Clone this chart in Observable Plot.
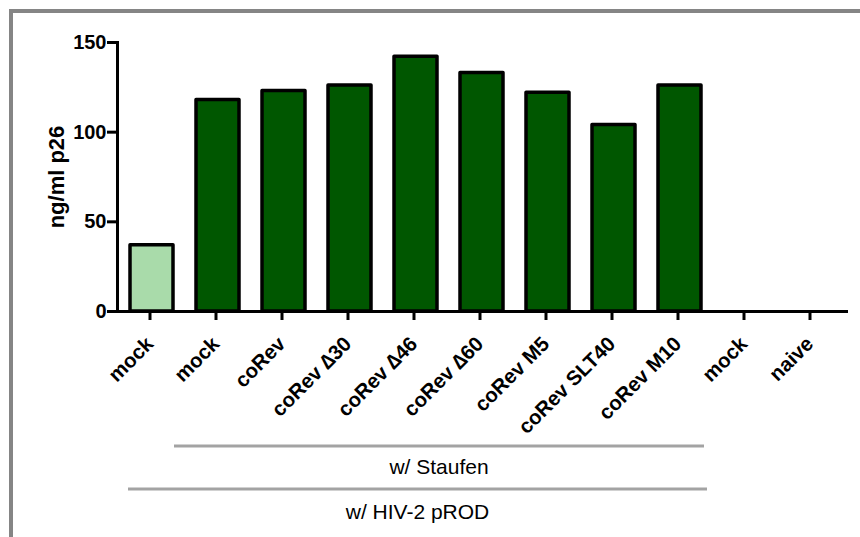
<!DOCTYPE html>
<html>
<head>
<meta charset="utf-8">
<script src="https://cdn.jsdelivr.net/npm/d3@7"></script>
<script src="https://cdn.jsdelivr.net/npm/@observablehq/plot@0.6"></script>
<style>
  html, body { margin: 0; padding: 0; background: #ffffff; }
  #wrap { position: relative; width: 860px; height: 537px; overflow: hidden; background: #ffffff; }
  #border { position: absolute; left: 9px; top: 9px; right: -10px; bottom: -10px;
            border-left: 4px solid #858585; border-top: 4px solid #858585; }
  #chart { position: absolute; left: 0; top: 0; }
  #chart svg { font-family: "Liberation Sans", Arial, sans-serif; }
</style>
</head>
<body>
<div id="wrap"><div id="border"></div><div id="chart"></div></div>
<script>
// ---- data ----
const ids = ["mock_a", "mock_b", "coRev", "d30", "d46", "d60", "M5", "SLT40", "M10", "mock_c", "naive"];
const labels = ["mock", "mock", "coRev", "coRev \u220630", "coRev \u220646", "coRev \u220660", "coRev M5", "coRev SLT40", "coRev M10", "mock", "naive"];
const values = [37, 118, 123, 126, 142, 133, 122, 104, 126, 0, 0];
const barKind = ["light", "dark", "dark", "dark", "dark", "dark", "dark", "dark", "dark", "dark", "dark"];
const yTicks = [0, 50, 100, 150];
const yLabel = "ng/ml p26";
const groupLabels = ["w/ Staufen", "w/ HIV-2 pROD"];
const groupFrom = ["mock_b", "mock_a"];
const groupTo = ["M10", "M10"];

const data = ids.map((id, i) => ({id, label: labels[i], value: values[i], kind: barKind[i]}));
const labelOf = new Map(ids.map((id, i) => [id, labels[i]]));
const fillOf = {light: "#a9dbaa", dark: "#005700"};

const plot = Plot.plot({
  width: 860,
  height: 537,
  marginTop: 42,
  marginBottom: 226,
  marginLeft: 117,
  marginRight: 12,
  style: {fontFamily: "'Liberation Sans', Arial, sans-serif", background: "transparent", color: "#000"},
  x: {domain: ids, range: [117, 845], paddingInner: 0.356, paddingOuter: 0.19, label: null},
  y: {domain: [0, 150], label: null},
  marks: [
    Plot.barY(data.filter(d => d.value > 0), {
      x: "id", y: "value",
      fill: d => fillOf[d.kind],
      stroke: "#000", strokeWidth: 3.5, strokeLinejoin: "round"
    }),
    Plot.frame({anchor: "left", stroke: "#000", strokeWidth: 3}),
    Plot.ruleY([0], {stroke: "#000", strokeWidth: 3}),
    Plot.axisY({ticks: yTicks, tickSize: 10, tickPadding: 1, fontSize: 20, fontWeight: "bold",
                strokeWidth: 3, label: null}),
    Plot.axisX({tickSize: 9, tickPadding: 20, tickRotate: -45, fontSize: 20.5, fontWeight: "bold",
                strokeWidth: 3, tickFormat: id => labelOf.get(id), label: null, dx: -2}),
    Plot.text([yLabel], {frameAnchor: "left", textAnchor: "middle", rotate: -90, dx: -61, fontSize: 22,
                         fontWeight: "bold", text: d => d, fill: "#000"})
  ]
});

document.getElementById("chart").appendChild(plot);

// ---- group annotations below the axis, positioned with the plot's x scale ----
const xs = plot.scale("x");
const bw = xs.bandwidth;
const svg = d3.select(plot);
const g = svg.append("g");
const lineY = [446, 489];
const textY = [467, 512];
const startPad = [22, 2];
const endPad = [3, 6];
groupLabels.forEach((lab, i) => {
  const x1 = xs.apply(groupFrom[i]) - startPad[i];
  const x2 = xs.apply(groupTo[i]) + bw + endPad[i];
  g.append("line").attr("x1", x1).attr("x2", x2).attr("y1", lineY[i]).attr("y2", lineY[i])
    .attr("stroke", "#a3a3a3").attr("stroke-width", 3);
  g.append("text").attr("x", (x1 + x2) / 2).attr("y", textY[i]).attr("dy", "0.35em")
    .attr("text-anchor", "middle").attr("font-size", 21).attr("fill", "#000")
    .attr("font-family", "'Liberation Sans', Arial, sans-serif").text(lab);
});
</script>
</body>
</html>
